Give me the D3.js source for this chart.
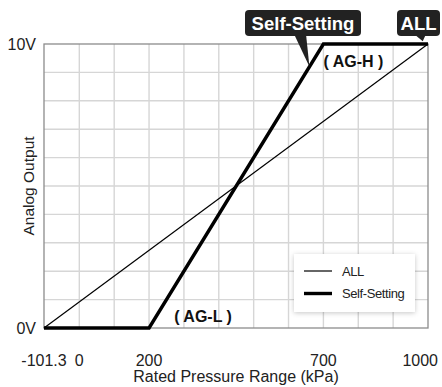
<!DOCTYPE html>
<html>
<head>
<meta charset="utf-8">
<script src="https://cdn.jsdelivr.net/npm/d3@7"></script>
<style>
  html, body { margin: 0; padding: 0; background: #fff; }
  svg { display: block; font-family: Arial, "Liberation Sans", Helvetica, sans-serif; }
</style>
</head>
<body>
<svg id="chart" width="442" height="387"></svg>
<script>
// Output characteristic: analog voltage vs. rated pressure
const xDomain = [-101.3, 1000];
const yDomain = [0, 10];

const xTickValues = [-101.3, 0, 200, 700, 1000];
const xTickLabels = ["-101.3", "0", "200", "700", "1000"];
const yTickValues = [0, 10];
const yTickLabels = ["0V", "10V"];

const xGridValues = [0, 100, 200, 300, 400, 500, 600, 700, 800, 900];
const yGridValues = [1, 2, 3, 4, 5, 6, 7, 8, 9];

// ALL: full range, linear over -101.3 .. 1000 kPa
const allPressure = [-101.3, 1000];
const allVoltage = [0, 10];

// Self-Setting: 0 V up to 200 kPa (AG-L), 10 V from 700 kPa (AG-H)
const selfPressure = [-101.3, 200, 700, 1000];
const selfVoltage = [0, 0, 10, 10];

const seriesNames = ["ALL", "Self-Setting"];

const W = 442, H = 387;
const margin = { left: 44, right: 14, top: 44, bottom: 59 };

const svg = d3.select("#chart");

const x = d3.scaleLinear().domain(xDomain).range([margin.left, W - margin.right]);
const y = d3.scaleLinear().domain(yDomain).range([H - margin.bottom, margin.top]);

const x0 = x(xDomain[0]), x1 = x(xDomain[1]);
const y0 = y(yDomain[0]), y1 = y(yDomain[1]);

// grid
const grid = svg.append("g").attr("stroke", "#d6d6d6").attr("stroke-width", 1.4);
grid.selectAll("line.v").data(xGridValues).join("line")
  .attr("class", "v")
  .attr("x1", d => x(d)).attr("x2", d => x(d))
  .attr("y1", y1).attr("y2", y0);
grid.selectAll("line.h").data(yGridValues).join("line")
  .attr("class", "h")
  .attr("x1", x0).attr("x2", x1)
  .attr("y1", d => y(d)).attr("y2", d => y(d));

// frame
svg.append("rect")
  .attr("x", x0).attr("y", y1)
  .attr("width", x1 - x0).attr("height", y0 - y1)
  .attr("fill", "none").attr("stroke", "#8c8c8c").attr("stroke-width", 1.3);

// series
const line = d3.line().x(d => x(d[0])).y(d => y(d[1]));
svg.append("path")
  .datum(d3.zip(allPressure, allVoltage))
  .attr("d", line).attr("fill", "none")
  .attr("stroke", "#000").attr("stroke-width", 1.2);
svg.append("path")
  .datum(d3.zip(selfPressure, selfVoltage))
  .attr("d", line).attr("fill", "none")
  .attr("stroke", "#000").attr("stroke-width", 3.4)
  .attr("stroke-linejoin", "miter");

// range labels
svg.append("text")
  .attr("x", x(700) + 30).attr("y", y(10) + 17)
  .attr("text-anchor", "middle").attr("dominant-baseline", "central")
  .attr("font-size", 16).attr("font-weight", "bold").attr("fill", "#111")
  .text("( AG-H )");
svg.append("text")
  .attr("x", x(200) + 54).attr("y", y(0) - 12)
  .attr("text-anchor", "middle").attr("dominant-baseline", "central")
  .attr("font-size", 16).attr("font-weight", "bold").attr("fill", "#111")
  .text("( AG-L )");

// axis tick labels
const xt = svg.append("g").attr("font-size", 16).attr("fill", "#222");
xt.selectAll("text").data(xTickValues).join("text")
  .attr("x", d => x(d))
  .attr("y", 366)
  .attr("text-anchor", "middle")
  .text((d, i) => xTickLabels[i])
  .each(function () {
    const t = d3.select(this);
    const half = this.getComputedTextLength() / 2;
    const cx = +t.attr("x");
    if (cx + half > W - 4) t.attr("x", W - 4 - half);
  });

svg.append("g").attr("font-size", 16).attr("fill", "#222")
  .selectAll("text").data(yTickValues).join("text")
  .attr("x", 36).attr("y", d => y(d))
  .attr("text-anchor", "end").attr("dominant-baseline", "central")
  .text((d, i) => yTickLabels[i]);

// axis titles
svg.append("text")
  .attr("x", (x0 + x1) / 2).attr("y", 382)
  .attr("text-anchor", "middle").attr("font-size", 16).attr("fill", "#222")
  .text("Rated Pressure Range (kPa)");
svg.append("text")
  .attr("transform", `translate(28,${(y0 + y1) / 2}) rotate(-90)`)
  .attr("text-anchor", "middle").attr("dominant-baseline", "central")
  .attr("font-size", 15.5).attr("fill", "#222")
  .text("Analog Output");

// callouts: dark label box with a pointer down to the series line
function callout(label, cx, boxW, tipPressure, tipVoltage, baseLeft, baseRight) {
  const boxY = 10, boxH = 26;
  const g = svg.append("g");
  const tx = x(tipPressure), ty = y(tipVoltage);
  g.append("path")
    .attr("d", `M${baseLeft},${boxY + boxH - 2} L${tx},${ty} L${baseRight},${boxY + boxH - 2} Z`)
    .attr("fill", "#222");
  g.append("rect")
    .attr("x", cx - boxW / 2).attr("y", boxY)
    .attr("width", boxW).attr("height", boxH)
    .attr("rx", 4).attr("fill", "#222");
  g.append("text")
    .attr("x", cx).attr("y", boxY + boxH / 2)
    .attr("text-anchor", "middle").attr("dominant-baseline", "central")
    .attr("font-size", 18.5).attr("font-weight", "bold").attr("fill", "#fff")
    .text(label);
}
callout(seriesNames[1], 303, 116, 660, 9.2, 294, 306);
callout(seriesNames[0], 418.5, 43, 985, 10.1, 414, 426);

// legend
const defs = svg.append("defs");
const f = defs.append("filter").attr("id", "shadow")
  .attr("x", "-20%").attr("y", "-30%").attr("width", "140%").attr("height", "160%");
f.append("feDropShadow").attr("dx", 0).attr("dy", 1).attr("stdDeviation", 2.5)
  .attr("flood-color", "#000").attr("flood-opacity", 0.22);

const lg = svg.append("g").attr("transform", "translate(294,254)");
lg.append("rect").attr("width", 121).attr("height", 58)
  .attr("fill", "#fff").attr("filter", "url(#shadow)");
const widths = [1.2, 3.4];
seriesNames.forEach((name, i) => {
  const ly = 17 + i * 22.5;
  lg.append("line").attr("x1", 10).attr("x2", 38)
    .attr("y1", ly).attr("y2", ly)
    .attr("stroke", "#000").attr("stroke-width", widths[i]);
  lg.append("text").attr("x", 48).attr("y", ly)
    .attr("dominant-baseline", "central")
    .attr("font-size", 13).attr("letter-spacing", -0.4).attr("fill", "#222")
    .text(name);
});
</script>
</body>
</html>
